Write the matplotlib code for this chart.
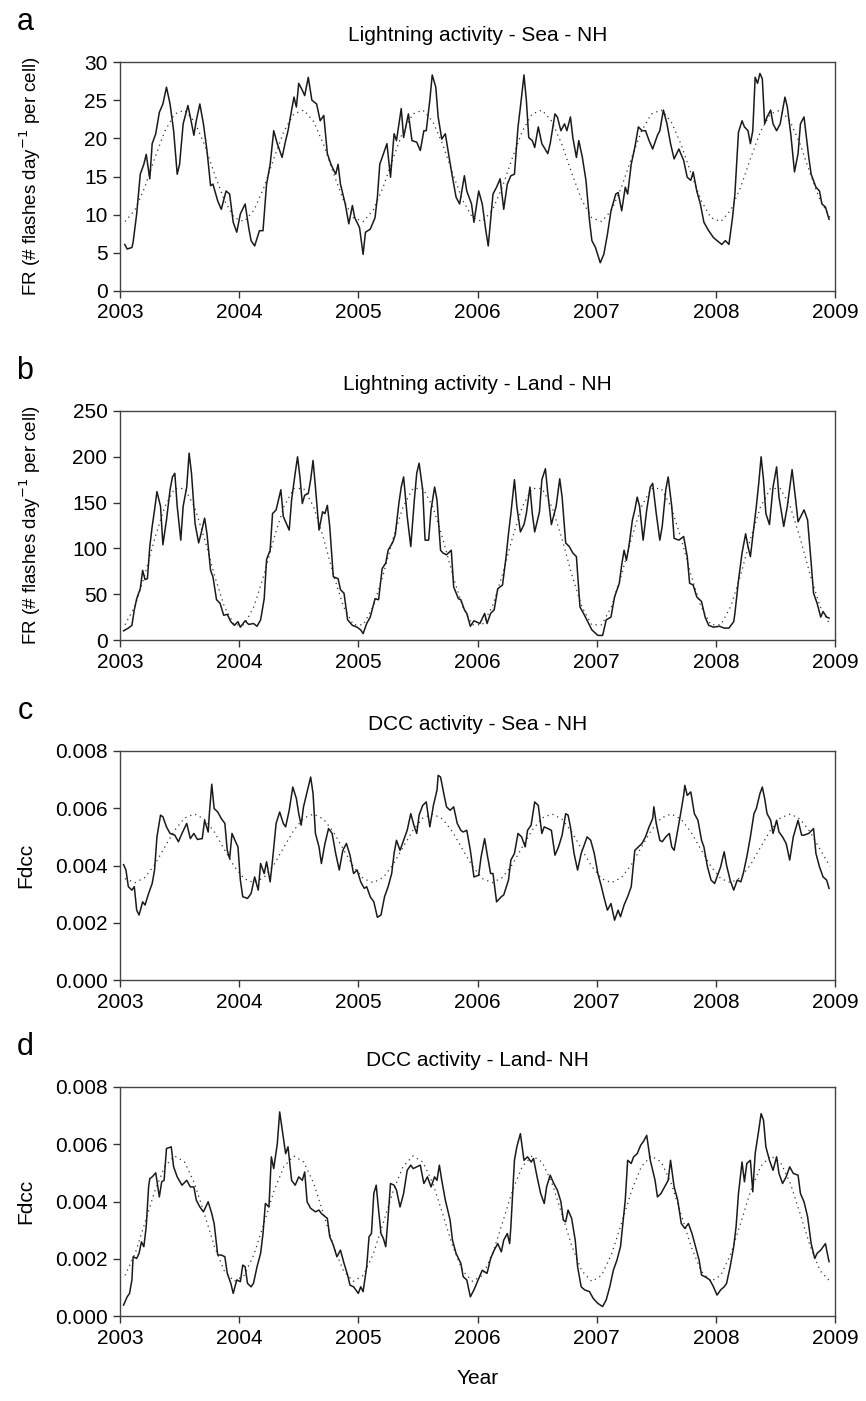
import matplotlib
matplotlib.use("Agg")
import matplotlib.pyplot as plt
from matplotlib.ticker import FormatStrFormatter
import numpy as np

# ---- data (decimal year, value) ----
SEA_FR_T = [2003.04, 2003.06, 2003.10, 2003.11, 2003.14, 2003.17, 2003.20, 2003.22, 2003.25, 2003.27,
            2003.30, 2003.33, 2003.36, 2003.39, 2003.42, 2003.45, 2003.48, 2003.50, 2003.53, 2003.57,
            2003.59, 2003.62, 2003.64, 2003.67, 2003.70, 2003.73, 2003.76, 2003.78, 2003.82, 2003.85,
            2003.89, 2003.92, 2003.95, 2003.98, 2004.01, 2004.05, 2004.08, 2004.10, 2004.13, 2004.17,
            2004.20, 2004.23, 2004.26, 2004.29, 2004.32, 2004.36, 2004.39, 2004.41, 2004.44, 2004.46,
            2004.48, 2004.50, 2004.53, 2004.55, 2004.58, 2004.61, 2004.65, 2004.68, 2004.71, 2004.74,
            2004.77, 2004.81, 2004.83, 2004.85, 2004.89, 2004.92, 2004.95, 2004.97, 2005.01, 2005.04,
            2005.06, 2005.10, 2005.14, 2005.16, 2005.18, 2005.22, 2005.24, 2005.27, 2005.30, 2005.32,
            2005.36, 2005.38, 2005.42, 2005.45, 2005.49, 2005.52, 2005.55, 2005.57, 2005.60, 2005.62,
            2005.65, 2005.67, 2005.70, 2005.73, 2005.76, 2005.79, 2005.82, 2005.85, 2005.89, 2005.91,
            2005.95, 2005.97, 2006.01, 2006.04, 2006.07, 2006.09, 2006.13, 2006.16, 2006.19, 2006.22,
            2006.25, 2006.28, 2006.31, 2006.34, 2006.36, 2006.39, 2006.41, 2006.43, 2006.46, 2006.48,
            2006.51, 2006.54, 2006.59, 2006.61, 2006.65, 2006.67, 2006.70, 2006.73, 2006.75, 2006.78,
            2006.80, 2006.83, 2006.85, 2006.88, 2006.91, 2006.94, 2006.96, 2006.99, 2007.03, 2007.06,
            2007.09, 2007.12, 2007.16, 2007.18, 2007.21, 2007.24, 2007.26, 2007.29, 2007.32, 2007.35,
            2007.38, 2007.41, 2007.44, 2007.47, 2007.51, 2007.53, 2007.56, 2007.59, 2007.62, 2007.65,
            2007.69, 2007.73, 2007.76, 2007.79, 2007.81, 2007.84, 2007.87, 2007.90, 2007.94, 2007.98,
            2008.01, 2008.05, 2008.08, 2008.11, 2008.14, 2008.16, 2008.19, 2008.22, 2008.24, 2008.27,
            2008.29, 2008.31, 2008.33, 2008.35, 2008.37, 2008.39, 2008.41, 2008.43, 2008.46, 2008.48,
            2008.51, 2008.54, 2008.58, 2008.60, 2008.63, 2008.66, 2008.69, 2008.71, 2008.74, 2008.78,
            2008.80, 2008.84, 2008.87, 2008.89, 2008.92, 2008.95]
SEA_FR_V = [6.1, 5.5, 5.7, 6.4, 10.1, 15.3, 16.6, 17.9, 14.7, 19.3,
            20.6, 23.4, 24.5, 26.7, 24.5, 21.0, 15.3, 16.6, 21.9, 24.3,
            22.8, 20.4, 22.3, 24.5, 21.9, 18.4, 13.8, 14.0, 11.8, 10.7,
            13.1, 12.7, 9.0, 7.7, 10.1, 11.4, 8.3, 6.6, 5.9, 7.9,
            7.9, 14.0, 16.6, 21.0, 19.3, 17.5, 19.7, 21.0, 23.7, 25.4,
            24.1, 27.2, 26.3, 25.6, 28.0, 25.0, 24.5, 22.3, 23.0, 18.0,
            16.6, 15.3, 16.6, 14.0, 11.4, 8.8, 11.2, 9.6, 8.3, 4.8,
            7.7, 8.1, 9.6, 12.3, 16.6, 18.4, 19.3, 14.9, 20.6, 19.7,
            23.9, 20.1, 23.2, 19.7, 19.5, 18.4, 21.0, 21.0, 25.0, 28.3,
            26.7, 22.8, 19.9, 20.6, 17.7, 14.9, 12.3, 11.4, 15.1, 13.1,
            11.4, 9.0, 13.1, 11.4, 7.9, 5.9, 12.7, 13.6, 14.7, 10.7,
            14.0, 15.1, 15.3, 21.5, 24.1, 28.3, 25.0, 20.1, 19.7, 18.8,
            21.5, 19.3, 18.0, 19.3, 23.2, 22.8, 21.0, 21.9, 21.0, 22.8,
            20.1, 17.5, 19.7, 17.5, 14.5, 9.2, 6.6, 5.7, 3.7, 4.8,
            7.4, 10.5, 12.7, 12.9, 10.5, 13.6, 12.7, 16.6, 18.8, 21.5,
            21.0, 21.0, 19.7, 18.6, 20.4, 21.0, 23.7, 21.9, 19.3, 17.3,
            18.6, 17.1, 14.9, 14.5, 15.6, 13.1, 11.4, 9.0, 7.9, 7.0,
            6.6, 6.1, 6.6, 6.1, 9.6, 12.7, 20.8, 22.3, 21.5, 21.0,
            19.3, 21.0, 28.0, 27.2, 28.5, 27.8, 21.9, 22.8, 23.7, 21.9,
            21.0, 21.9, 25.4, 24.1, 20.4, 15.6, 18.0, 21.9, 22.8, 17.5,
            15.3, 13.6, 13.1, 11.4, 11.0, 9.4]

LAND_FR_T = [2003.03, 2003.07, 2003.10, 2003.12, 2003.14, 2003.17, 2003.19, 2003.21, 2003.23, 2003.25,
             2003.27, 2003.29, 2003.31, 2003.34, 2003.36, 2003.39, 2003.42, 2003.44, 2003.46, 2003.48,
             2003.51, 2003.53, 2003.56, 2003.58, 2003.60, 2003.63, 2003.66, 2003.68, 2003.71, 2003.73,
             2003.76, 2003.78, 2003.81, 2003.84, 2003.87, 2003.90, 2003.93, 2003.96, 2003.99, 2004.01,
             2004.05, 2004.08, 2004.12, 2004.15, 2004.18, 2004.21, 2004.23, 2004.26, 2004.28, 2004.31,
             2004.33, 2004.35, 2004.37, 2004.42, 2004.44, 2004.47, 2004.49, 2004.51, 2004.53, 2004.55,
             2004.58, 2004.60, 2004.62, 2004.64, 2004.67, 2004.70, 2004.72, 2004.74, 2004.76, 2004.79,
             2004.83, 2004.85, 2004.88, 2004.91, 2004.95, 2004.99, 2005.02, 2005.04, 2005.07, 2005.10,
             2005.14, 2005.17, 2005.20, 2005.23, 2005.25, 2005.29, 2005.31, 2005.34, 2005.36, 2005.38,
             2005.41, 2005.44, 2005.47, 2005.49, 2005.51, 2005.54, 2005.56, 2005.59, 2005.61, 2005.64,
             2005.66, 2005.69, 2005.71, 2005.74, 2005.78, 2005.80, 2005.84, 2005.86, 2005.89, 2005.91,
             2005.94, 2005.97, 2006.02, 2006.06, 2006.08, 2006.11, 2006.14, 2006.17, 2006.21, 2006.24,
             2006.26, 2006.28, 2006.31, 2006.33, 2006.36, 2006.39, 2006.41, 2006.44, 2006.46, 2006.48,
             2006.52, 2006.54, 2006.57, 2006.59, 2006.62, 2006.66, 2006.69, 2006.71, 2006.74, 2006.77,
             2006.80, 2006.83, 2006.86, 2006.89, 2006.94, 2006.96, 2007.01, 2007.05, 2007.08, 2007.12,
             2007.15, 2007.19, 2007.21, 2007.23, 2007.25, 2007.27, 2007.30, 2007.32, 2007.34, 2007.36,
             2007.39, 2007.42, 2007.45, 2007.47, 2007.50, 2007.53, 2007.55, 2007.58, 2007.60, 2007.63,
             2007.65, 2007.69, 2007.73, 2007.76, 2007.78, 2007.81, 2007.84, 2007.88, 2007.91, 2007.94,
             2007.98, 2008.03, 2008.07, 2008.11, 2008.15, 2008.16, 2008.19, 2008.22, 2008.25, 2008.27,
             2008.29, 2008.31, 2008.34, 2008.36, 2008.38, 2008.40, 2008.42, 2008.45, 2008.48, 2008.51,
             2008.53, 2008.57, 2008.60, 2008.64, 2008.67, 2008.69, 2008.74, 2008.77, 2008.80, 2008.82,
             2008.85, 2008.88, 2008.90, 2008.93, 2008.95]
LAND_FR_V = [10, 13, 16, 33, 45, 56, 76, 66, 67, 102,
             124, 142, 162, 146, 104, 131, 164, 178, 182, 146,
             109, 146, 167, 204, 182, 127, 106, 116, 133, 116,
             76, 69, 44, 40, 27, 28, 20, 16, 20, 14,
             21, 17, 18, 15, 22, 45, 88, 98, 138, 142,
             153, 164, 135, 120, 153, 182, 200, 178, 149, 158,
             160, 175, 196, 167, 120, 140, 138, 147, 124, 69,
             67, 55, 51, 22, 16, 14, 11, 7, 18, 25,
             45, 44, 78, 84, 98, 107, 115, 149, 167, 178,
             135, 102, 153, 182, 193, 164, 109, 109, 142, 167,
             153, 98, 95, 93, 98, 58, 45, 44, 33, 29,
             15, 21, 18, 29, 18, 29, 33, 56, 60, 91,
             116, 138, 175, 146, 118, 126, 138, 167, 138, 118,
             140, 175, 187, 160, 126, 146, 176, 156, 106, 102,
             95, 91, 36, 29, 16, 11, 5, 5, 22, 25,
             47, 62, 82, 98, 87, 102, 131, 142, 156, 146,
             109, 142, 167, 171, 138, 109, 124, 164, 178, 146,
             111, 109, 113, 91, 62, 60, 47, 42, 25, 16,
             14, 15, 13, 13, 20, 29, 65, 95, 116, 102,
             91, 113, 146, 171, 200, 175, 138, 126, 167, 189,
             156, 124, 146, 186, 153, 129, 142, 131, 84, 51,
             40, 25, 31, 25, 24]

# DCC fraction, in units of 1e-3
SEA_DCC_T = [2003.03, 2003.05, 2003.07, 2003.10, 2003.12, 2003.14, 2003.16, 2003.19, 2003.21, 2003.24,
             2003.27, 2003.29, 2003.31, 2003.34, 2003.36, 2003.39, 2003.42, 2003.46, 2003.49, 2003.52,
             2003.56, 2003.59, 2003.62, 2003.65, 2003.69, 2003.71, 2003.74, 2003.75, 2003.77, 2003.79,
             2003.82, 2003.85, 2003.88, 2003.90, 2003.92, 2003.94, 2003.97, 2003.99, 2004.01, 2004.03,
             2004.07, 2004.10, 2004.13, 2004.16, 2004.18, 2004.21, 2004.23, 2004.26, 2004.28, 2004.31,
             2004.34, 2004.37, 2004.39, 2004.42, 2004.45, 2004.48, 2004.50, 2004.52, 2004.54, 2004.57,
             2004.60, 2004.62, 2004.64, 2004.67, 2004.69, 2004.72, 2004.75, 2004.78, 2004.81, 2004.84,
             2004.87, 2004.90, 2004.93, 2004.96, 2004.99, 2005.02, 2005.05, 2005.07, 2005.10, 2005.13,
             2005.16, 2005.19, 2005.22, 2005.25, 2005.28, 2005.30, 2005.32, 2005.35, 2005.39, 2005.41,
             2005.44, 2005.47, 2005.49, 2005.51, 2005.54, 2005.57, 2005.60, 2005.63, 2005.66, 2005.67,
             2005.69, 2005.72, 2005.74, 2005.77, 2005.80, 2005.83, 2005.86, 2005.88, 2005.91, 2005.94,
             2005.97, 2006.01, 2006.03, 2006.06, 2006.08, 2006.11, 2006.13, 2006.16, 2006.20, 2006.22,
             2006.26, 2006.28, 2006.31, 2006.34, 2006.37, 2006.40, 2006.42, 2006.45, 2006.48, 2006.51,
             2006.54, 2006.56, 2006.59, 2006.62, 2006.65, 2006.68, 2006.71, 2006.74, 2006.76, 2006.78,
             2006.81, 2006.84, 2006.87, 2006.89, 2006.92, 2006.95, 2006.98, 2007.01, 2007.04, 2007.06,
             2007.09, 2007.12, 2007.15, 2007.18, 2007.20, 2007.23, 2007.26, 2007.29, 2007.32, 2007.35,
             2007.38, 2007.41, 2007.44, 2007.47, 2007.48, 2007.50, 2007.53, 2007.55, 2007.58, 2007.61,
             2007.63, 2007.65, 2007.68, 2007.70, 2007.73, 2007.74, 2007.76, 2007.79, 2007.82, 2007.85,
             2007.88, 2007.90, 2007.93, 2007.96, 2007.99, 2008.01, 2008.04, 2008.07, 2008.09, 2008.12,
             2008.15, 2008.18, 2008.21, 2008.23, 2008.26, 2008.29, 2008.32, 2008.34, 2008.37, 2008.39,
             2008.41, 2008.43, 2008.46, 2008.48, 2008.51, 2008.53, 2008.56, 2008.59, 2008.62, 2008.65,
             2008.69, 2008.72, 2008.74, 2008.78, 2008.82, 2008.84, 2008.87, 2008.90, 2008.93, 2008.95]
SEA_DCC_V = [4.03, 3.84, 3.26, 3.14, 3.26, 2.44, 2.27, 2.73, 2.62, 3.02,
             3.37, 3.84, 5.00, 5.76, 5.70, 5.35, 5.12, 5.06, 4.83, 5.12,
             5.47, 4.94, 5.12, 4.91, 4.94, 5.58, 5.17, 5.81, 6.84, 5.99,
             5.87, 5.64, 5.47, 4.53, 4.24, 5.12, 4.83, 4.65, 3.49, 2.91,
             2.85, 3.02, 3.60, 3.14, 4.07, 3.72, 4.13, 3.43, 4.19, 5.47,
             5.87, 5.47, 5.35, 5.93, 6.74, 6.34, 5.81, 5.41, 6.05, 6.57,
             7.09, 6.51, 5.12, 4.65, 4.07, 4.77, 5.29, 5.12, 4.42, 3.84,
             4.53, 4.77, 4.36, 3.72, 3.84, 3.43, 3.20, 3.26, 2.91, 2.73,
             2.19, 2.27, 2.91, 3.26, 3.72, 4.42, 4.88, 4.53, 5.00, 5.23,
             5.81, 5.35, 5.12, 5.76, 6.10, 6.22, 5.35, 6.10, 6.63, 7.15,
             7.09, 6.45, 6.05, 5.93, 6.05, 5.47, 5.23, 5.17, 5.23, 4.53,
             3.60, 3.66, 4.30, 4.94, 4.42, 3.72, 3.72, 2.73, 2.91, 2.97,
             3.49, 4.19, 4.42, 5.12, 5.00, 4.65, 5.23, 5.41, 6.22, 6.10,
             5.12, 5.35, 5.29, 5.23, 4.36, 4.65, 5.06, 5.81, 5.76, 5.35,
             4.42, 3.84, 4.42, 4.65, 5.00, 4.88, 4.42, 3.72, 3.26, 2.91,
             2.44, 2.67, 2.09, 2.44, 2.21, 2.62, 2.91, 3.26, 4.53, 4.65,
             4.77, 5.00, 5.35, 5.64, 6.05, 5.47, 4.88, 4.83, 5.00, 5.12,
             4.65, 4.53, 5.23, 5.70, 6.45, 6.80, 6.45, 6.57, 5.81, 5.58,
             4.88, 4.65, 3.95, 3.49, 3.37, 3.60, 3.95, 4.48, 4.01, 3.49,
             3.14, 3.49, 3.43, 3.72, 4.30, 5.00, 5.81, 5.99, 6.51, 6.74,
             6.34, 5.81, 5.58, 5.12, 5.58, 5.17, 5.00, 4.77, 4.19, 5.00,
             5.58, 5.06, 5.06, 5.12, 5.29, 4.42, 3.95, 3.60, 3.49, 3.20]

LAND_DCC_T = [2003.03, 2003.06, 2003.08, 2003.10, 2003.11, 2003.14, 2003.16, 2003.18, 2003.20, 2003.22,
              2003.24, 2003.25, 2003.27, 2003.30, 2003.33, 2003.35, 2003.37, 2003.39, 2003.43, 2003.45,
              2003.48, 2003.52, 2003.56, 2003.59, 2003.62, 2003.64, 2003.67, 2003.70, 2003.74, 2003.77,
              2003.79, 2003.82, 2003.85, 2003.88, 2003.90, 2003.93, 2003.95, 2003.98, 2004.01, 2004.03,
              2004.05, 2004.07, 2004.10, 2004.12, 2004.15, 2004.18, 2004.20, 2004.22, 2004.25, 2004.27,
              2004.29, 2004.32, 2004.34, 2004.37, 2004.39, 2004.41, 2004.44, 2004.47, 2004.50, 2004.53,
              2004.55, 2004.57, 2004.60, 2004.64, 2004.67, 2004.69, 2004.74, 2004.76, 2004.79, 2004.82,
              2004.85, 2004.88, 2004.91, 2004.93, 2004.96, 2005.00, 2005.02, 2005.04, 2005.07, 2005.09,
              2005.11, 2005.13, 2005.15, 2005.17, 2005.19, 2005.21, 2005.23, 2005.25, 2005.27, 2005.30,
              2005.32, 2005.35, 2005.38, 2005.41, 2005.44, 2005.46, 2005.49, 2005.52, 2005.55, 2005.58,
              2005.61, 2005.64, 2005.66, 2005.68, 2005.70, 2005.73, 2005.77, 2005.79, 2005.82, 2005.86,
              2005.88, 2005.91, 2005.94, 2005.97, 2006.01, 2006.04, 2006.08, 2006.11, 2006.14, 2006.17,
              2006.20, 2006.22, 2006.25, 2006.27, 2006.28, 2006.31, 2006.33, 2006.36, 2006.39, 2006.42,
              2006.45, 2006.47, 2006.50, 2006.53, 2006.56, 2006.58, 2006.61, 2006.64, 2006.67, 2006.70,
              2006.72, 2006.74, 2006.76, 2006.79, 2006.82, 2006.84, 2006.87, 2006.90, 2006.94, 2006.97,
              2007.01, 2007.05, 2007.08, 2007.11, 2007.14, 2007.17, 2007.20, 2007.22, 2007.24, 2007.26,
              2007.29, 2007.31, 2007.34, 2007.37, 2007.39, 2007.42, 2007.45, 2007.47, 2007.49, 2007.51,
              2007.54, 2007.57, 2007.60, 2007.62, 2007.65, 2007.68, 2007.71, 2007.74, 2007.77, 2007.80,
              2007.83, 2007.86, 2007.88, 2007.91, 2007.95, 2007.98, 2008.01, 2008.04, 2008.07, 2008.09,
              2008.12, 2008.15, 2008.17, 2008.19, 2008.22, 2008.24, 2008.26, 2008.29, 2008.31, 2008.33,
              2008.36, 2008.38, 2008.40, 2008.42, 2008.45, 2008.48, 2008.51, 2008.53, 2008.56, 2008.59,
              2008.62, 2008.65, 2008.69, 2008.71, 2008.74, 2008.77, 2008.80, 2008.83, 2008.85, 2008.88,
              2008.92, 2008.93, 2008.95]
LAND_DCC_V = [0.38, 0.67, 0.79, 1.26, 2.07, 2.01, 2.19, 2.59, 2.42, 3.12,
              4.51, 4.80, 4.86, 5.00, 4.16, 4.69, 4.74, 5.85, 5.91, 5.21,
              4.86, 4.57, 4.74, 4.51, 4.51, 4.05, 3.81, 3.64, 3.99, 3.58,
              3.23, 2.13, 2.13, 2.07, 1.49, 1.14, 0.79, 1.26, 1.20, 1.78,
              1.72, 1.14, 1.02, 1.14, 1.72, 2.19, 2.88, 3.93, 3.81, 5.56,
              5.15, 6.02, 7.13, 6.26, 5.67, 5.91, 4.74, 4.57, 4.86, 4.74,
              5.03, 3.99, 3.76, 3.64, 3.70, 3.58, 3.41, 2.77, 2.48, 2.07,
              2.30, 1.84, 1.43, 1.08, 1.02, 0.79, 1.02, 0.85, 1.72, 2.77,
              2.88, 4.28, 4.57, 3.70, 2.88, 2.71, 2.42, 3.47, 4.63, 4.57,
              4.40, 3.81, 4.28, 5.09, 5.27, 5.15, 5.21, 5.27, 4.63, 4.86,
              4.51, 4.86, 4.74, 5.27, 4.74, 4.05, 3.35, 2.65, 2.19, 1.84,
              1.37, 1.26, 0.67, 0.91, 1.31, 1.60, 1.49, 2.01, 2.30, 2.53,
              2.24, 2.65, 2.88, 2.53, 3.12, 5.44, 5.91, 6.37, 5.44, 5.56,
              5.38, 5.50, 4.86, 4.28, 3.93, 4.51, 4.92, 4.63, 4.40, 3.99,
              3.35, 3.29, 3.70, 3.41, 2.65, 1.72, 1.02, 0.91, 0.85, 0.62,
              0.44, 0.33, 0.56, 1.02, 1.60, 1.95, 2.42, 3.23, 4.05, 5.44,
              5.33, 5.56, 5.67, 5.97, 6.08, 6.31, 5.44, 5.09, 4.74, 4.16,
              4.28, 4.51, 4.74, 5.44, 4.51, 4.05, 3.23, 3.06, 3.23, 2.88,
              2.42, 1.95, 1.43, 1.37, 1.26, 1.02, 0.73, 0.91, 1.02, 1.14,
              1.72, 2.42, 3.12, 4.28, 5.38, 4.69, 5.33, 5.44, 4.34, 5.67,
              6.49, 7.07, 6.84, 5.91, 5.44, 5.09, 5.56, 4.98, 4.63, 4.86,
              5.21, 4.98, 4.92, 4.28, 3.99, 3.47, 2.53, 2.01, 2.19, 2.30,
              2.53, 2.30, 1.90]

# dotted annual fit, one value per month (mid-month), the same each year
FIT_MONTH = [2003 + (m + 0.5) / 12 for m in range(72)]
SEA_FR_FIT = [9.1, 10.6, 13.6, 17.4, 20.9, 23.2, 23.7, 22.2, 19.2, 15.4, 11.9, 9.6] * 6
LAND_FR_FIT = [16.6, 36.6, 71.1, 110.9, 145.4, 165.4, 165.4, 145.4, 110.9, 71.1, 36.6, 16.6] * 6
SEA_DCC_FIT = [3.54, 3.40, 3.58, 4.03, 4.64, 5.23, 5.66, 5.80, 5.62, 5.17, 4.56, 3.97] * 6
LAND_DCC_FIT = [1.42, 2.16, 3.24, 4.36, 5.22, 5.59, 5.38, 4.64, 3.56, 2.44, 1.58, 1.21] * 6

YEARS = [2003, 2004, 2005, 2006, 2007, 2008, 2009]

PANELS = [
    ("a", "Lightning activity - Sea - NH", SEA_FR_T, SEA_FR_V, SEA_FR_FIT, 1.0,
     [0, 5, 10, 15, 20, 25, 30], "%d", "FR (# flashes day$^{-1}$ per cell)"),
    ("b", "Lightning activity - Land - NH", LAND_FR_T, LAND_FR_V, LAND_FR_FIT, 1.0,
     [0, 50, 100, 150, 200, 250], "%d", "FR (# flashes day$^{-1}$ per cell)"),
    ("c", "DCC activity - Sea - NH", SEA_DCC_T, SEA_DCC_V, SEA_DCC_FIT, 1e-3,
     [0.0, 0.002, 0.004, 0.006, 0.008], "%.3f", "Fdcc"),
    ("d", "DCC activity - Land- NH", LAND_DCC_T, LAND_DCC_V, LAND_DCC_FIT, 1e-3,
     [0.0, 0.002, 0.004, 0.006, 0.008], "%.3f", "Fdcc"),
]

plt.rcParams.update({
    "font.family": ["Liberation Sans", "DejaVu Sans"],
    "font.size": 15,
    "xtick.labelsize": 15,
    "ytick.labelsize": 15,
})

W, H = 866, 1401
fig = plt.figure(figsize=(W / 100, H / 100), dpi=100)

LEFT, RIGHT = 120, 835
TOPS = [62, 411, 751, 1087]
PANEL_H = 229

for (letter, title, t, v, fit, scale, yticks, fmt, ylab), top in zip(PANELS, TOPS):
    ax = fig.add_axes([LEFT / W, 1 - (top + PANEL_H) / H, (RIGHT - LEFT) / W, PANEL_H / H])
    ax.plot(FIT_MONTH, np.array(fit) * scale, color="#333333", lw=0.9, linestyle=(0, (1, 3.2)))
    ax.plot(t, np.array(v) * scale, color="#1a1a1a", lw=1.1)
    ax.set_xlim(2003, 2009)
    ax.set_ylim(yticks[0], yticks[-1])
    ax.set_xticks(YEARS)
    ax.set_yticks(yticks)
    ax.yaxis.set_major_formatter(FormatStrFormatter(fmt))
    ax.tick_params(direction="out", length=5, width=1, color="#333333", pad=4, top=False, right=False)
    for sp in ax.spines.values():
        sp.set_color("#444444")
        sp.set_linewidth(1.0)
    ax.set_title(title, fontsize=15, pad=15)
    ax.set_ylabel(ylab, fontsize=13.5 if letter in "ab" else 15)
    if letter in "ab":
        ax.yaxis.set_label_coords(-0.108, 0.5)
    else:
        ax.yaxis.set_label_coords(-0.118, 0.5)
    fig.text(25 / W, 1 - (top - 32) / H, letter, fontsize=22, ha="center", va="baseline")

fig.text((LEFT + RIGHT) / 2 / W, 1 - 1378 / H, "Year", fontsize=15, ha="center", va="center")

fig.savefig("out.png", dpi=100)
